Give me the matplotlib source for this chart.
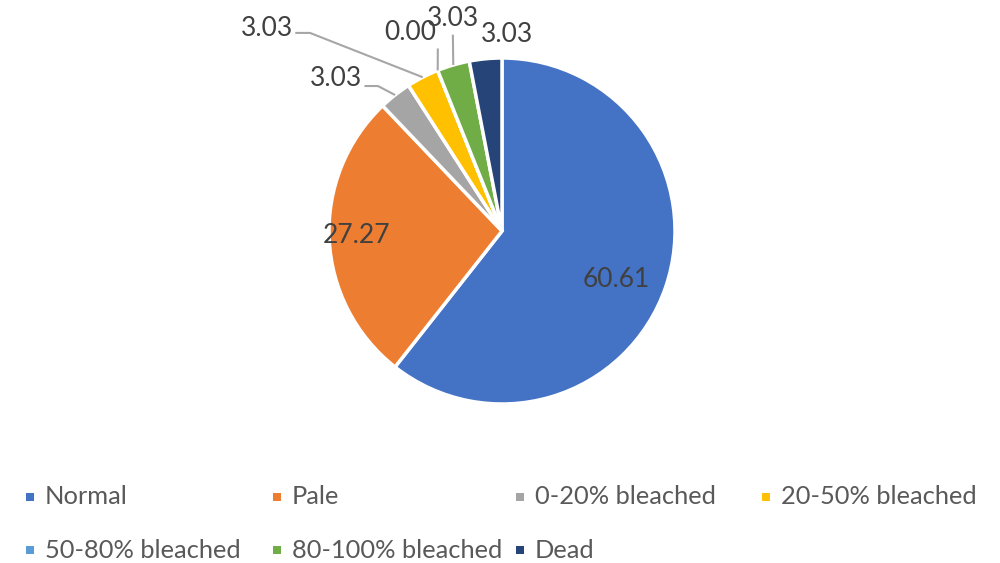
import matplotlib
matplotlib.use("Agg")
import matplotlib.pyplot as plt
import numpy as np

categories = ["Normal", "Pale", "0-20% bleached", "20-50% bleached",
              "50-80% bleached", "80-100% bleached", "Dead"]
values = [60.61, 27.27, 3.03, 3.03, 0.00, 3.03, 3.03]
labels = ["60.61", "27.27", "3.03", "3.03", "0.00", "3.03", "3.03"]
colors = ["#4472C4", "#ED7D31", "#A5A5A5", "#FFC000",
          "#5B9BD5", "#70AD47", "#264478"]

plt.rcParams['font.family'] = ['Lato', 'DejaVu Sans']

W, H = 1000, 563
fig = plt.figure(figsize=(W / 100, H / 100), dpi=100)
fig.patch.set_facecolor("white")

cx, cy, R = 502, 231, 173
ax = fig.add_axes([(cx - R) / W, (H - cy - R) / H, 2 * R / W, 2 * R / H])

wedges, _ = ax.pie(values, colors=colors, startangle=90, counterclock=False,
                   radius=1.0, wedgeprops=dict(edgecolor="white", linewidth=2.5))
ax.set_xlim(-1, 1)
ax.set_ylim(-1, 1)
ax.set_aspect("auto")
ax.axis("off")
for w in wedges:
    w.set_clip_on(False)

# label layout (positions in axes data units)
text_col = "#404040"
line_col = "#A6A6A6"
fs = 19
fs_leg = 18.3

total = sum(values)
starts = np.cumsum([0] + values[:-1])
mids = [90 - (s + v / 2) / total * 360 for s, v in zip(starts, values)]

# inside labels
for i, r, da in [(0, 0.72, -4), (1, 0.84, -1)]:
    a = np.deg2rad(mids[i] + da)
    ax.text(r * np.cos(a), r * np.sin(a), labels[i], ha="center", va="center",
            fontsize=fs, color=text_col, clip_on=False)

# outside labels: (index, text x, text y, ha, leader path points after wedge edge)
outside = [
    (2, -0.81, 0.884, "right", [(-0.717, 0.838), (-0.795, 0.838)]),
    (3, -1.205, 1.173, "right", [(-1.110, 1.145), (-1.195, 1.145)]),
    (4, -0.532, 1.150, "center", [(-0.371, 1.055)]),
    (5, -0.283, 1.231, "center", [(-0.284, 1.135)]),
    (6, 0.029, 1.133, "center", []),
]
for i, tx, ty, ha, path in outside:
    a = np.deg2rad(mids[i])
    if path:
        xs = [np.cos(a)] + [p[0] for p in path]
        ys = [np.sin(a)] + [p[1] for p in path]
        ax.plot(xs, ys, color=line_col, lw=1.5, clip_on=False,
                solid_capstyle="butt")
    ax.text(tx, ty, labels[i], ha=ha, va="center", fontsize=fs,
            color=text_col, clip_on=False)

# legend (Excel-style, row-major)
col_x = [30, 277, 520, 766]
row_y = [497, 550]
for k, (cat, col) in enumerate(zip(categories, colors)):
    r, c = divmod(k, 4)
    x, y = col_x[c], row_y[r]
    fig.patches.append(plt.Rectangle(((x - 4) / W, (H - y - 4) / H), 8 / W, 8 / H,
                                     transform=fig.transFigure, facecolor=col,
                                     edgecolor="none"))
    fig.text((x + 15) / W, (H - y) / H, cat, ha="left", va="center",
             fontsize=fs_leg, color="#595959")

fig.savefig("out.png", dpi=100, facecolor="white")
